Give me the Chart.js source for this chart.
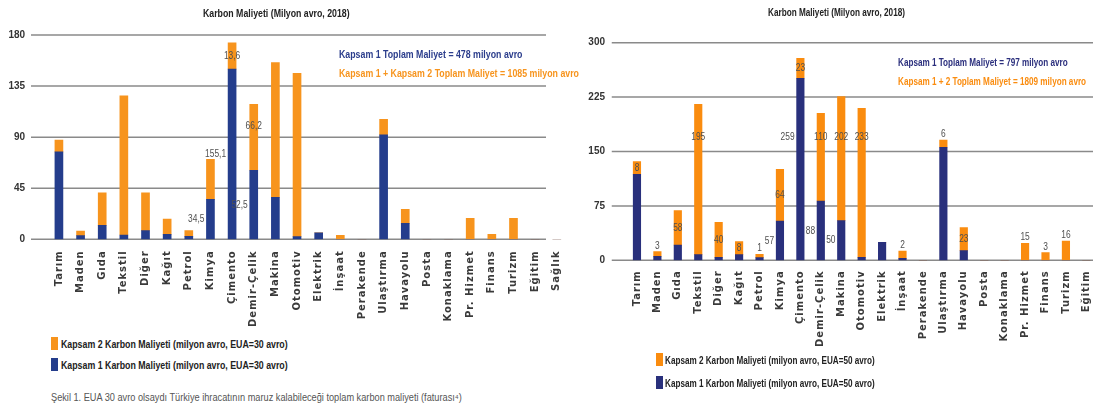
<!DOCTYPE html>
<html lang="tr">
<head>
<meta charset="UTF-8" />
<title>Karbon Maliyeti (Milyon avro, 2018)</title>
<script src="https://cdn.jsdelivr.net/npm/chart.js"></script>
<style>
  html, body { margin: 0; padding: 0; background: #fff; }
  body { position: relative; width: 1093px; height: 410px; overflow: hidden;
         font-family: 'Liberation Sans', sans-serif; }
  canvas { position: absolute; top: 0; }
  .abs { position: absolute; white-space: nowrap; line-height: 12px; }
  .sx { display: inline-block; transform-origin: left center; }
  .title { font-weight: bold; font-size: 10.5px; color: #222; }
  .total { font-weight: bold; font-size: 11px; }
  .leg { position: relative; font-weight: bold; font-size: 11px; color: #222; line-height: 12px; }
  .leg i { position: absolute; top: -1px; width: 7px; height: 13px; }
  .caption { font-size: 10px; color: #555; }
</style>
</head>
<body>
<canvas id="c30" width="580" height="330" style="left:0"></canvas>
<canvas id="c50" width="564" height="350" style="left:565px"></canvas>

<div class="abs title" style="left:203px;top:7px"><span class="sx" style="transform:scaleX(0.835)">Karbon Maliyeti (Milyon avro, 2018)</span></div>
<div class="abs title" style="left:768px;top:6px"><span class="sx" style="transform:scaleX(0.78)">Karbon Maliyeti (Milyon avro, 2018)</span></div>
<div class="abs total" style="left:339px;top:48px;color:#2b3d8c"><span id="tot30a" class="sx" style="transform:scaleX(0.80)"></span></div>
<div class="abs total" style="left:339px;top:67px;color:#f7941d"><span id="tot30b" class="sx" style="transform:scaleX(0.80)"></span></div>
<div class="abs total" style="left:898px;top:56px;color:#2b2f7d"><span id="tot50a" class="sx" style="transform:scaleX(0.74)"></span></div>
<div class="abs total" style="left:898px;top:75px;color:#fa8c0f"><span id="tot50b" class="sx" style="transform:scaleX(0.74)"></span></div>
<div id="leg30" class="abs" style="left:61px;top:338px"></div>
<div id="leg50" class="abs" style="left:665px;top:354px"></div>
<div class="abs caption" style="left:51px;top:392px"><span class="sx" style="transform:scaleX(0.92)">Şekil 1. EUA 30 avro olsaydı Türkiye ihracatının maruz kalabileceği toplam karbon maliyeti (faturası⁴)</span></div>

<script>
// sektörler
const sectors = ['Tarım', 'Maden', 'Gıda', 'Tekstil', 'Diğer', 'Kağıt', 'Petrol', 'Kimya', 'Çimento',
  'Demir-Çelik', 'Makina', 'Otomotiv', 'Elektrik', 'İnşaat', 'Perakende', 'Ulaştırma', 'Havayolu',
  'Posta', 'Konaklama', 'Pr. Hizmet', 'Finans', 'Turizm', 'Eğitim', 'Sağlık'];

// EUA = 30 avro (sol grafik)
const kapsam1_30 = [77, 3.2, 12.3, 3.8, 7.6, 4.4, 2.6, 35.2, 150, 60.8, 37, 2.3, 5.8, 0, 0, 92, 14.1, 0, 0, 0, 0, 0, 0, 0];
const kapsam2_30 = [10.5, 4.1, 28.7, 122.7, 33.4, 13.5, 5, 35.3, 23.2, 58.1, 118.6, 144, 0, 3.5, 0, 13.7, 12.3, 0, 0, 18.5, 4.4, 18.5, 0, 0];
const etiket1_30 = ['', '', '', '', '', '', '', '34,5', '155,1', '52,5', '', '', '', '', '', '', '', '', '', '', '', '', '', ''];
const etiket2_30 = ['', '', '', '', '', '', '', '', '13,6', '66,2', '', '', '', '', '', '', '', '', '', '', '', '', '', ''];
const yTicks_30 = [0, 45, 90, 135, 180];
const toplam_30 = { k1: 478, k12: 1085 };

// EUA = 50 avro (sağ grafik)
const kapsam1_50 = [118.5, 5.5, 21, 7.8, 4.1, 7.8, 3.6, 54.2, 251, 81.8, 54.6, 4.1, 24.8, 2.7, 0, 155.8, 13.3, 0, 0, 0, 0, 0, 0, 0];
const kapsam2_50 = [17.5, 6.4, 47.4, 207.2, 48.3, 17.9, 4.7, 71.2, 27.5, 120.9, 171, 205.5, 0, 10.1, 0, 10.1, 31.7, 0, 0, 23.4, 10.5, 26.6, 0, 0];
const etiket1_50 = ['', '', '', '', '', '', '', '57', '259', '88', '50', '', '', '', '', '', '', '', '', '', '', '', '', ''];
const etiket2_50 = ['8', '3', '58', '195', '40', '8', '1', '64', '23', '110', '202', '233', '', '2', '', '6', '23', '', '', '15', '3', '16', '', ''];
const yTicks_50 = [0, 75, 150, 225, 300];
const toplam_50 = { k1: 797, k12: 1809 };

// yatay çizgiler
const hGrid = {
  id: 'hGrid',
  afterDraw(chart) { chart.ctx.letterSpacing = '0px'; },
  beforeDatasetsDraw(chart, args, o) {
    const { ctx, chartArea, scales: { y } } = chart;
    ctx.save();
    ctx.strokeStyle = o.color;
    ctx.lineWidth = o.width;
    y.ticks.forEach(t => {
      const py = y.getPixelForValue(t.value);
      ctx.beginPath();
      ctx.moveTo(chartArea.left - o.extend, py);
      ctx.lineTo(chartArea.right - o.trim, py);
      ctx.stroke();
    });
    ctx.restore();
  }
};

// çubuk üzerindeki değer etiketleri
const barText = {
  id: 'barText',
  afterDatasetsDraw(chart, args, o) {
    const { ctx, scales: { y } } = chart;
    const m1 = chart.getDatasetMeta(0), m2 = chart.getDatasetMeta(1);
    const d1 = chart.data.datasets[0].data, d2 = chart.data.datasets[1].data;
    const place = (lo, hi, raise) => {
      if (raise != null && lo <= raise && hi >= raise) return y.getPixelForValue(raise);
      return y.getPixelForValue((lo + hi) / 2);
    };
    const put = (txt, x, py, align) => {
      ctx.save();
      ctx.translate(x, py);
      ctx.scale(o.squeeze, 1);
      ctx.font = o.font;
      ctx.fillStyle = o.color;
      ctx.textBaseline = 'middle';
      ctx.textAlign = align;
      ctx.fillText(txt, 0, 0);
      ctx.restore();
    };
    o.labels2.forEach((txt, i) => {
      if (!txt) return;
      const b = m2.data[i];
      const seg = b.base - b.y;
      const py = (!d1[i] || seg < 10) ? b.y - 6 : place(d1[i], d1[i] + d2[i], o.raise2);
      put(txt, b.x, py, 'center');
    });
    o.labels1.forEach((txt, i) => {
      if (!txt) return;
      const b = m1.data[i];
      put(txt, b.x - b.width / 2 - 2, place(0, d1[i], o.raise1), 'right');
    });
    // x ekseni etiketleri (ticks.z: 1) bundan sonra çizilir: aralıklı yazı
    ctx.letterSpacing = '1px';
  }
};

function buildChart(id, c) {
  return new Chart(document.getElementById(id), {
    type: 'bar',
    data: {
      labels: sectors,
      datasets: [
        { label: c.names[1], data: c.k1, backgroundColor: c.blue, barThickness: c.bar },
        { label: c.names[0], data: c.k2, backgroundColor: c.orange, barThickness: c.bar }
      ]
    },
    options: {
      responsive: false,
      animation: false,
      layout: { padding: { top: c.top, right: c.right, left: 0, bottom: 0 } },
      plugins: {
        legend: { display: false },
        tooltip: { enabled: false },
        hGrid: { color: '#8a8a8a', width: 1.5, extend: c.extend, trim: c.trim },
        barText: { labels1: c.lab1, labels2: c.lab2, raise1: c.raise1, raise2: c.raise2,
                   font: '10.5px "Liberation Sans", sans-serif', color: '#505050', squeeze: 0.8 }
      },
      scales: {
        x: {
          stacked: true,
          grid: { display: false, drawTicks: false },
          border: { display: false },
          ticks: { z: 1, autoSkip: false, minRotation: 90, maxRotation: 90, padding: c.xPad, color: '#3a3a3a',
                   font: { family: 'DejaVu Sans', weight: 'bold', size: 10 } },
          afterFit: s => { s.height = c.xh; }
        },
        y: {
          stacked: true,
          min: c.ticks[0],
          max: c.ticks[c.ticks.length - 1],
          afterBuildTicks: s => { s.ticks = c.ticks.map(v => ({ value: v })); },
          grid: { display: false, drawTicks: false },
          border: { display: false },
          ticks: { padding: c.yPad, color: '#333', font: { family: 'Liberation Sans', weight: 'bold', size: 10 } },
          afterFit: s => { s.width = c.yw; }
        }
      }
    },
    plugins: [hGrid, barText]
  });
}

function legend(id, names, colors, sq, gap, k) {
  document.getElementById(id).innerHTML = names.map((n, i) =>
    `<div class="leg" style="margin-bottom:${gap}px"><i style="left:${sq}px;background:${colors[i]}"></i>` +
    `<span class="sx" style="transform:scaleX(${k})">${n}</span></div>`).join('');
}

const names30 = ['Kapsam 2 Karbon Maliyeti (milyon avro, EUA=30 avro)', 'Kapsam 1 Karbon Maliyeti (milyon avro, EUA=30 avro)'];
const names50 = ['Kapsam 2 Karbon Maliyeti (milyon avro, EUA=50 avro)', 'Kapsam 1 Karbon Maliyeti (milyon avro, EUA=50 avro)'];

buildChart('c30', {
  names: names30, k1: kapsam1_30, k2: kapsam2_30, lab1: etiket1_30, lab2: etiket2_30, ticks: yTicks_30,
  blue: '#243d8c', orange: '#f7941d', bar: 8, top: 35, right: 10.4, yw: 48.1, yPad: 23, xh: 90.7, xPad: 11,
  extend: 17.1, trim: 21.6, raise1: null, raise2: 100
});
buildChart('c50', {
  names: names50, k1: kapsam1_50, k2: kapsam2_50, lab1: etiket1_50, lab2: etiket2_50, ticks: yTicks_50,
  blue: '#29307c', orange: '#fa8c0f', bar: 7.5, top: 42.7, right: 10.25, yw: 61.75, yPad: 21.75, xh: 89.7, xPad: 10,
  extend: 15, trim: 0, raise1: 170, raise2: 170
});

legend('leg30', names30, ['#f7941d', '#243d8c'], -10, 9, 0.80);
legend('leg50', names50, ['#fa8c0f', '#29307c'], -9, 10.5, 0.74);
document.getElementById('tot30a').textContent = `Kapsam 1 Toplam Maliyet = ${toplam_30.k1} milyon avro`;
document.getElementById('tot30b').textContent = `Kapsam 1 + Kapsam 2 Toplam Maliyet = ${toplam_30.k12} milyon avro`;
document.getElementById('tot50a').textContent = `Kapsam 1 Toplam Maliyet = ${toplam_50.k1} milyon avro`;
document.getElementById('tot50b').textContent = `Kapsam 1 +  2 Toplam Maliyet = ${toplam_50.k12} milyon avro`;
</script>
</body>
</html>
